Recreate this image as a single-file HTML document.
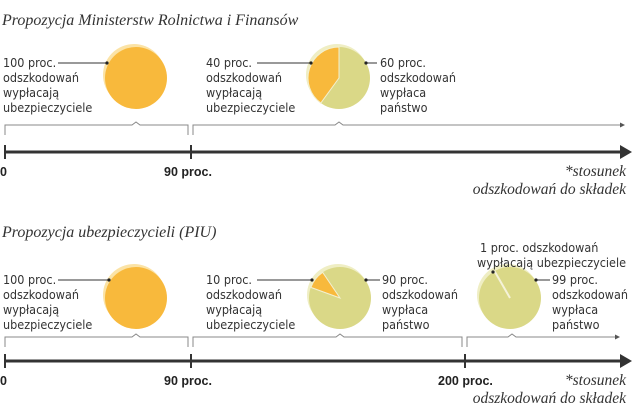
<!DOCTYPE html>
<html><head><meta charset="utf-8"><style>
body{margin:0;background:#fff}
svg{display:block}
.t{font-family:"Liberation Serif",serif;font-style:italic;font-size:16px;fill:#333}
.l{font-family:"DejaVu Sans Condensed","Liberation Sans",sans-serif;font-size:12.5px;fill:#333}
.b{font-family:"Liberation Sans",sans-serif;font-weight:bold;font-size:12.5px;fill:#222}
.n{font-family:"Liberation Serif",serif;font-style:italic;font-size:15.5px;fill:#333}
</style></head><body>
<svg id="c" width="640" height="417" viewBox="0 0 640 417">
<text class="t" x="2" y="25">Propozycja Ministerstw Rolnictwa i Finansów</text>
<text class="t" x="2" y="237">Propozycja ubezpieczycieli (PIU)</text>
<g id="g"></g>
</svg>
<script>
const rowTitles=["ministries","insurers"];
const row1Shares=[100,40];
const row2Shares=[100,10,1];
const ticksRow1=["0","90 proc."];
const ticksRow2=["0","90 proc.","200 proc."];
const ns="http://www.w3.org/2000/svg";
const g=document.getElementById('g');
function mk(t,a,txt){const e=document.createElementNS(ns,t);for(const k in a)e.setAttribute(k,a[k]);if(txt!==undefined)e.textContent=txt;g.appendChild(e);return e;}
const OR="#f8b93c",YG="#dad887";
function pt(cx,cy,r,deg){const a=deg*Math.PI/180;return [cx+r*Math.sin(a),cy-r*Math.cos(a)];}
// share = insurer (orange) share; slice ends at endAngle (clockwise from top)
function pie(cx,cy,share,endAngle,name){
 const r=31;
 let e=mk('circle',{cx:cx-2,cy:cy-3,r:r,fill:share>=100?"#fbe3a6":"#efeec4"});
 
 e=mk('circle',{cx:cx,cy:cy,r:r,fill:share>=100?OR:YG});
 
 if(share<100&&share>1){
  const a1=endAngle,a0=endAngle-share*3.6;
  const p0=pt(cx,cy,r,a0),p1=pt(cx,cy,r,a1);
  e=mk('path',{d:`M${cx},${cy}L${p0[0]},${p0[1]}A${r},${r} 0 ${share>50?1:0} 1 ${p1[0]},${p1[1]}Z`,fill:OR,stroke:"#f3f0d0","stroke-width":1});
  
 } else if(share<=1){
  const p0=pt(cx,cy,r,endAngle);
  e=mk('line',{x1:cx,y1:cy,x2:p0[0],y2:p0[1],stroke:"#f5f2d8","stroke-width":2});
  
 }
}
function lines(x,y,arr,name){arr.forEach((s,i)=>{const e=mk('text',{class:'l',x:x,y:y+i*15},s);});}
function leader(x1,x2,y,name){let e=mk('line',{x1:x1,y1:y,x2:x2,y2:y,stroke:"#333","stroke-width":1});
 e=mk('circle',{cx:x2,cy:y,r:1.6,fill:"#222"});}
function bracket(x1,x2,y,bump,arrow,name){
 let d=`M${x1},${y+10}V${y}H${bump-4}l4,-3l4,3H${x2}`;if(!arrow)d+=`V${y+10}`;
 let e=mk('path',{d:d,fill:"none",stroke:"#888","stroke-width":1});
 if(arrow){e=mk('path',{d:`M${x2},${y-2.5}L${x2+5},${y}L${x2},${y+2.5}Z`,fill:"#555"});}
}
function axis(y,ticksX,labels,name){
 let e=mk('line',{x1:5,y1:y,x2:622,y2:y,stroke:"#333","stroke-width":3});
 e=mk('path',{d:`M620,${y-7}L632,${y}L620,${y+7}Z`,fill:"#333"});
 ticksX.forEach((x,i)=>{e=mk('line',{x1:x,y1:y-7,x2:x,y2:y+7,stroke:"#333","stroke-width":2});
  e=mk('text',{class:'b',x:i==0?0:x-27,y:y+24},labels[i]);});
 e=mk('text',{class:'n',x:626,y:y+24,'text-anchor':'end'},"*stosunek");
 e=mk('text',{class:'n',x:626,y:y+42,'text-anchor':'end'},"odszkodowań do składek");
}
const ins=["odszkodowań","wypłacają","ubezpieczyciele"];
const st=["odszkodowań","wypłaca","państwo"];
// row 1
pie(136,78,row1Shares[0],0,'pie-row1-a');
pie(339,78,row1Shares[1],360,'pie-row1-b');
lines(3,67,[row1Shares[0]+" proc."].concat(ins),'label-insurers');
leader(58,107,63,'leader');
lines(206,67,[row1Shares[1]+" proc."].concat(ins),'label-insurers');
leader(257,311,63,'leader');
lines(380,67,[(100-row1Shares[1])+" proc."].concat(st),'label-state');
leader(377,366,63,'leader');
bracket(5,188,125,136,false,'bracket-row1-a');
bracket(193,620,125,339,true,'bracket-row1-b');
axis(152,[5,191],ticksRow1,'axis-row1');
// row 2
pie(136,298,row2Shares[0],0,'pie-row2-a');
pie(340,298,row2Shares[1],326,'pie-row2-b');
pie(510,298,row2Shares[2],330,'pie-row2-c');
lines(3,284,[row2Shares[0]+" proc."].concat(ins),'label-insurers');
leader(58,109,280,'leader');
lines(206,284,[row2Shares[1]+" proc."].concat(ins),'label-insurers');
leader(257,312,280,'leader');
lines(382,284,[(100-row2Shares[1])+" proc."].concat(st),'label-state');
leader(380,366,280,'leader');
lines(480,252,[row2Shares[2]+" proc. odszkodowań"],'label-insurers');
lines(477,267,["wypłacają ubezpieczyciele"],'label-insurers');
leader(493,493,272,'leader');
let ln=mk('line',{x1:493,y1:271,x2:493,y2:272,stroke:"#333"});
lines(552,284,[(100-row2Shares[2])+" proc."].concat(st),'label-state');
leader(550,536,280,'leader');
bracket(5,188,337,136,false,'bracket-row2-a');
bracket(193,462,337,340,false,'bracket-row2-b');
bracket(467,615,337,512,true,'bracket-row2-c');
axis(361,[5,191,465],ticksRow2,'axis-row2');
</script>
</body></html>
